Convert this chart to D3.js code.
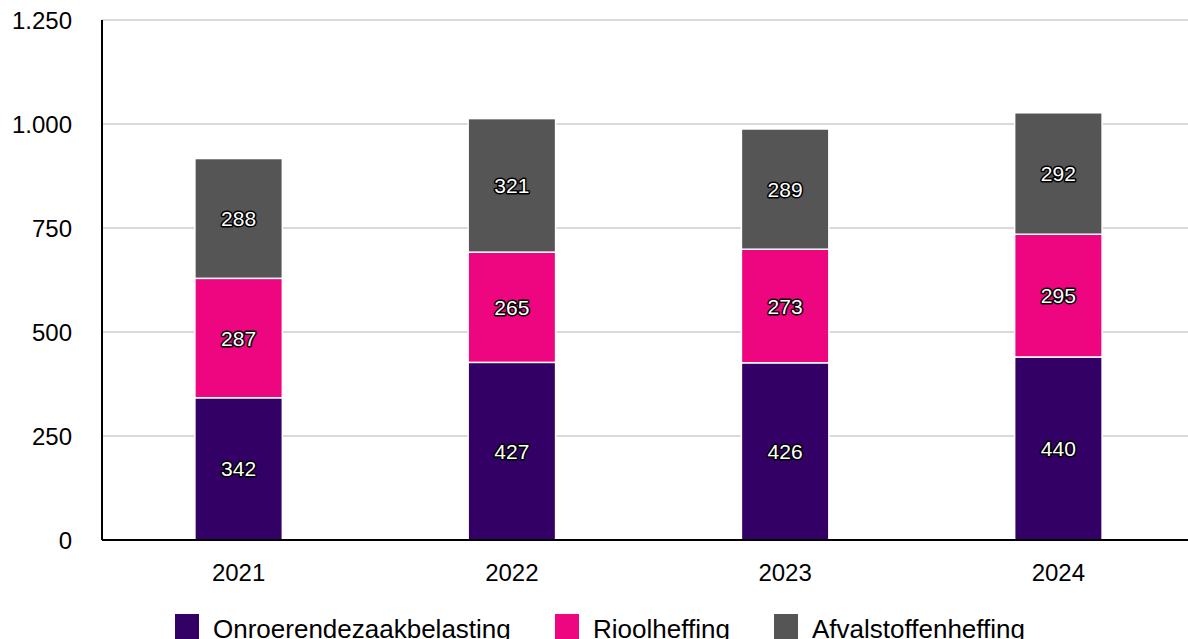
<!DOCTYPE html>
<meta charset="utf-8">
<style>
    body { margin: 0; background: #fff; }
    svg { display: block; font-family: "Liberation Sans", Arial, sans-serif; }
</style>
<div id="chart"></div>
<script src="https://d3js.org/d3.v7.min.js"></script>
<script>
    var years = ["2021", "2022", "2023", "2024"];
    var seriesNames = ["Onroerendezaakbelasting", "Rioolheffing", "Afvalstoffenheffing"];
    var ozb = [342, 427, 426, 440];
    var riool = [287, 265, 273, 295];
    var afval = [288, 321, 289, 292];
    var yTicks = [0, 250, 500, 750, 1000, 1250];
    var colors = ["#330066", "#ee0580", "#555555"];

    var W = 1188, H = 639;
    var plotLeft = 102, plotTop = 20, plotBottom = 540;

    var svg = d3.select("#chart").append("svg")
        .attr("width", W)
        .attr("height", H);

    var rows = years.map(function(y, i) {
        return { year: y, s0: ozb[i], s1: riool[i], s2: afval[i] };
    });
    var stacked = d3.stack().keys(["s0", "s1", "s2"])(rows);

    var x = d3.scaleBand()
        .domain(years)
        .range([plotLeft, 1195])
        .paddingInner(0.68)
        .paddingOuter(0.34);

    var y = d3.scaleLinear()
        .domain([0, 1250])
        .range([plotBottom, plotTop]);

    var fmt = d3.formatLocale({ decimal: ",", thousands: ".", grouping: [3], currency: ["€", ""] }).format(",");

    // gridlines
    svg.append("g")
        .selectAll("line")
        .data(yTicks.slice(1))
        .enter().append("line")
        .attr("x1", plotLeft).attr("x2", W)
        .attr("y1", function(d) { return y(d); })
        .attr("y2", function(d) { return y(d); })
        .attr("stroke", "#d9d9d9")
        .attr("stroke-width", 2);

    // y tick labels
    svg.append("g")
        .selectAll("text")
        .data(yTicks)
        .enter().append("text")
        .attr("x", 72)
        .attr("y", function(d) { return y(d); })
        .attr("dy", "0.36em")
        .attr("text-anchor", "end")
        .attr("font-size", 24)
        .attr("fill", "#000")
        .text(function(d) { return fmt(d); });

    // bars
    var layers = svg.append("g").selectAll("g")
        .data(stacked)
        .enter().append("g")
        .attr("fill", function(d, i) { return colors[i]; });

    layers.selectAll("rect")
        .data(function(d) { return d; })
        .enter().append("rect")
        .attr("x", function(d) { return x(d.data.year); })
        .attr("width", x.bandwidth())
        .attr("y", function(d) { return y(d[1]); })
        .attr("height", function(d) { return y(d[0]) - y(d[1]); })
        .attr("stroke", "#fff")
        .attr("stroke-width", 1.5);

    // value labels
    layers.selectAll("text")
        .data(function(d) { return d; })
        .enter().append("text")
        .attr("x", function(d) { return x(d.data.year) + x.bandwidth() / 2; })
        .attr("y", function(d) { return (y(d[0]) + y(d[1])) / 2; })
        .attr("dy", "0.36em")
        .attr("text-anchor", "middle")
        .attr("font-size", 21)
        .attr("fill", "#fff")
        .attr("stroke", "#000")
        .attr("stroke-width", 3)
        .attr("stroke-linejoin", "round")
        .attr("paint-order", "stroke")
        .text(function(d) { return d[1] - d[0]; });

    // axes lines
    svg.append("line")
        .attr("x1", plotLeft).attr("x2", plotLeft)
        .attr("y1", plotTop).attr("y2", plotBottom)
        .attr("stroke", "#000").attr("stroke-width", 2);
    svg.append("line")
        .attr("x1", plotLeft).attr("x2", W)
        .attr("y1", plotBottom).attr("y2", plotBottom)
        .attr("stroke", "#000").attr("stroke-width", 2);

    // x labels
    svg.append("g")
        .selectAll("text")
        .data(years)
        .enter().append("text")
        .attr("x", function(d) { return x(d) + x.bandwidth() / 2; })
        .attr("y", 572)
        .attr("dy", "0.36em")
        .attr("text-anchor", "middle")
        .attr("font-size", 24)
        .attr("fill", "#000")
        .text(function(d) { return d; });

    // legend
    var legendX = [175, 555, 774];
    var legend = svg.append("g").selectAll("g")
        .data(seriesNames)
        .enter().append("g")
        .attr("transform", function(d, i) { return "translate(" + legendX[i] + ",614)"; });
    legend.append("rect")
        .attr("width", 24).attr("height", 26)
        .attr("fill", function(d, i) { return colors[i]; });
    legend.append("text")
        .attr("x", 38)
        .attr("y", 15)
        .attr("dy", "0.36em")
        .attr("font-size", 26)
        .attr("fill", "#000")
        .text(function(d) { return d; });
</script>
